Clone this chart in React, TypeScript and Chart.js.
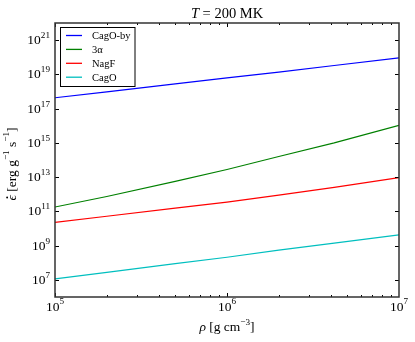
import { useEffect, useRef } from "react";
import { Chart, registerables } from "chart.js";

Chart.register(...registerables);

// ---- data ----
const density = [1e5, 2e5, 5e5, 1e6, 2e6, 4.2e6, 1e7];
const cagoBy = [4.3e17, 9.5e17, 2.8e18, 6.3e18, 1.35e19, 3.3e19, 9.1e19];
const tripleAlpha = [1.8e11, 7.4e11, 5.6e12, 2.8e13, 1.6e14, 1.0e15, 1.05e16];
const nagF = [2.3e10, 5.2e10, 1.55e11, 3.5e11, 8.9e11, 2.5e12, 9.3e12];
const cagO = [1.15e7, 2.75e7, 8.9e7, 2.1e8, 5.5e8, 1.4e9, 4.3e9];
const seriesLabels = ["CagO-by", "3α", "NagF", "CagO"];
const seriesColors = ["#0000ff", "#008000", "#ff0000", "#00bfbf"];
const xMajorTicks = [1e5, 1e6, 1e7];
const yMajorTicks = [1e7, 1e9, 1e11, 1e13, 1e15, 1e17, 1e19, 1e21];
const xRange = [1e5, 1e7];
const yRange = [1e6, 1e22];

const SERIF = '"Liberation Serif", "DejaVu Serif", serif';

type Seg = { t: string; sup?: boolean; it?: boolean; dot?: boolean };

function segFont(s: Seg, size: number) {
  const sz = s.sup ? size * 0.68 : size;
  return `${s.it ? "italic " : ""}${sz}px ${SERIF}`;
}

function drawRich(
  ctx: CanvasRenderingContext2D,
  segs: Seg[],
  x: number,
  y: number,
  size: number,
  align: "left" | "center" | "right",
  supRaise = 0.5
) {
  const widths = segs.map((s) => {
    ctx.font = segFont(s, size);
    return ctx.measureText(s.t).width;
  });
  const total = widths.reduce((a, b) => a + b, 0);
  let cx = align === "left" ? x : align === "center" ? x - total / 2 : x - total;
  ctx.textAlign = "left";
  ctx.textBaseline = "alphabetic";
  segs.forEach((s, i) => {
    ctx.font = segFont(s, size);
    ctx.fillText(s.t, cx, s.sup ? y - size * supRaise : y);
    if (s.dot) {
      ctx.beginPath();
      ctx.arc(cx + widths[i] * 0.55, y - size * 0.62, size * 0.07, 0, Math.PI * 2);
      ctx.fill();
    }
    cx += widths[i];
  });
}

const decorPlugin = {
  id: "decor",
  afterDraw(chart: any) {
    const { ctx, chartArea: a } = chart;
    const xs = chart.scales.x;
    const ys = chart.scales.y;
    ctx.save();
    ctx.fillStyle = "#000";
    ctx.strokeStyle = "#000";

    // ticks (inward, on all four sides)
    ctx.lineWidth = 1;
    const majorLen = 4;
    const minorLen = 2;
    ctx.beginPath();
    for (let e = 5; e < 7; e++) {
      for (let m = 1; m <= 9; m++) {
        const v = m * Math.pow(10, e);
        const px = Math.round(xs.getPixelForValue(v)) + 0.5;
        const len = m === 1 ? majorLen : minorLen;
        ctx.moveTo(px, a.bottom);
        ctx.lineTo(px, a.bottom - len);
        ctx.moveTo(px, a.top);
        ctx.lineTo(px, a.top + len);
      }
    }
    yMajorTicks.forEach((v) => {
      const py = Math.round(ys.getPixelForValue(v)) + 0.5;
      ctx.moveTo(a.left, py);
      ctx.lineTo(a.left + majorLen, py);
      ctx.moveTo(a.right, py);
      ctx.lineTo(a.right - majorLen, py);
    });
    ctx.stroke();

    // frame
    ctx.lineWidth = 1.5;
    ctx.strokeStyle = "#333";
    ctx.strokeRect(a.left, a.top, a.right - a.left, a.bottom - a.top);

    // tick labels
    ctx.fillStyle = "#000";
    xMajorTicks.forEach((v) => {
      const px = xs.getPixelForValue(v);
      const exp = Math.round(Math.log10(v));
      drawRich(ctx, [{ t: "10" }, { t: String(exp), sup: true }], px, a.bottom + 14, 13.5, "center", 0.5);
    });
    yMajorTicks.forEach((v) => {
      const py = ys.getPixelForValue(v);
      const exp = Math.round(Math.log10(v));
      drawRich(ctx, [{ t: "10" }, { t: String(exp), sup: true }], a.left - 5, py + 4, 13.5, "right", 0.45);
    });

    // axis titles
    const cxm = (a.left + a.right) / 2;
    const cym = (a.top + a.bottom) / 2;
    drawRich(
      ctx,
      [{ t: "ρ", it: true }, { t: " [g cm" }, { t: "−3", sup: true }, { t: "]" }],
      cxm,
      331,
      13.5,
      "center",
      0.45
    );
    ctx.save();
    ctx.translate(15.5, cym + 4);
    ctx.rotate(-Math.PI / 2);
    drawRich(
      ctx,
      [
        { t: "ϵ", it: true, dot: true },
        { t: " [erg g" },
        { t: "−1", sup: true },
        { t: " s" },
        { t: "−1", sup: true },
        { t: "]" },
      ],
      0,
      0,
      13.5,
      "center",
      0.45
    );
    ctx.restore();

    // title
    drawRich(ctx, [{ t: "T", it: true }, { t: " = 200 MK" }], cxm, 17.5, 14.5, "center");

    // legend
    const lx = 60;
    const ly = 27.5;
    const lw = 74.5;
    const lh = 59;
    ctx.fillStyle = "#fff";
    ctx.fillRect(lx, ly, lw, lh);
    ctx.lineWidth = 1;
    ctx.strokeStyle = "#000";
    ctx.strokeRect(lx + 0.5, ly, lw, lh);
    chart.data.datasets.forEach((ds: any, i: number) => {
      const ry = 35.5 + i * 13.9;
      ctx.strokeStyle = ds.borderColor;
      ctx.lineWidth = 1.3;
      ctx.beginPath();
      ctx.moveTo(66, ry);
      ctx.lineTo(82, ry);
      ctx.stroke();
      ctx.fillStyle = "#000";
      drawRich(ctx, [{ t: ds.label }], 92, ry + 3.5, 10.5, "left");
    });

    ctx.restore();
  },
};

export default function App() {
  const ref = useRef<HTMLCanvasElement>(null);
  useEffect(() => {
    const series = [cagoBy, tripleAlpha, nagF, cagO];
    const chart = new Chart(ref.current as HTMLCanvasElement, {
      type: "line",
      data: {
        datasets: series.map((vals, i) => ({
          label: seriesLabels[i],
          data: density.map((d, j) => ({ x: d, y: vals[j] })),
          borderColor: seriesColors[i],
          backgroundColor: seriesColors[i],
          borderWidth: 1.2,
          pointRadius: 0,
          tension: 0,
          fill: false,
        })),
      },
      options: {
        responsive: false,
        animation: false,
        devicePixelRatio: 1,
        layout: { padding: { left: 55, right: 16, top: 23, bottom: 45 } },
        plugins: {
          legend: { display: false },
          title: { display: false },
          tooltip: { enabled: false },
        },
        scales: {
          x: { type: "logarithmic", min: xRange[0], max: xRange[1], display: false },
          y: { type: "logarithmic", min: yRange[0], max: yRange[1], display: false },
        },
      },
      plugins: [decorPlugin],
    });
    return () => chart.destroy();
  }, []);
  return (
    <div style={{ position: "fixed", left: 0, top: 0, width: 415, height: 342, background: "#fff" }}>
      <canvas ref={ref} width={415} height={342} style={{ width: 415, height: 342, display: "block" }} />
    </div>
  );
}
